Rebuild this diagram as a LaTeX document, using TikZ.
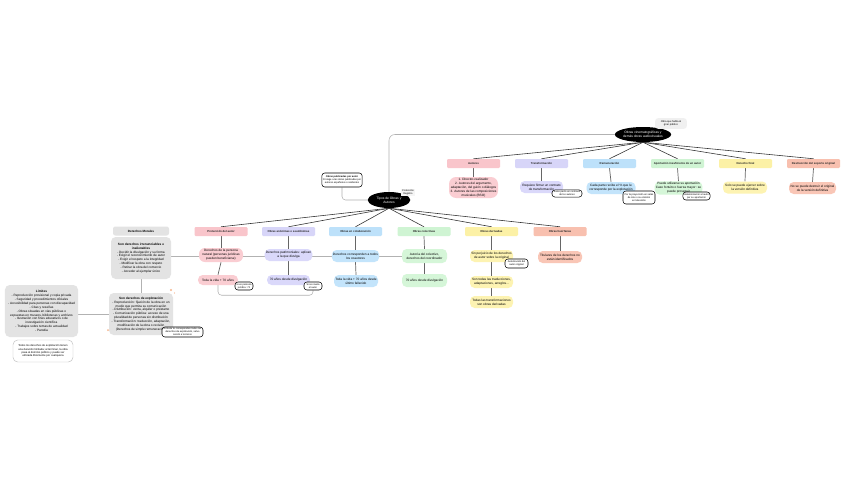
\documentclass[tikz,border=0pt]{standalone}
\usepackage{fontspec}
\setsansfont{Liberation Sans}
\usetikzlibrary{shapes.geometric,backgrounds,calc}
\definecolor{PinkHead}{HTML}{F9C5CB}
\definecolor{PinkLeaf}{HTML}{FACDD2}
\definecolor{LilacHead}{HTML}{D7D5F8}
\definecolor{LilacLeaf}{HTML}{DAD8FA}
\definecolor{SkyHead}{HTML}{BDE1FA}
\definecolor{SkyLeaf}{HTML}{C3E4FB}
\definecolor{MintHead}{HTML}{CFF4D3}
\definecolor{MintLeaf}{HTML}{D5F6D8}
\definecolor{LemonHead}{HTML}{FCF1A6}
\definecolor{LemonLeaf}{HTML}{FDF3B2}
\definecolor{SalmonHead}{HTML}{F8C0AF}
\definecolor{SalmonLeaf}{HTML}{F9C6B6}
\definecolor{PanelGray}{HTML}{E3E3E3}
\definecolor{Spark}{HTML}{F6B48A}
\newcommand{\tinytxt}{\fontsize{2.7}{3.3}\selectfont}

\begin{document}
\begin{tikzpicture}[x=0.03cm,y=-0.03cm,every node/.style={font=\sffamily\tinytxt,text=black},
cat/.style={rectangle,rounded corners=1pt,minimum width=1.59cm,minimum height=0.27cm,inner sep=0pt,font=\sffamily\bfseries\fontsize{2.4}{3}\selectfont,text=black!85},
leaf/.style={rectangle,rounded corners=4pt,align=center,inner sep=1pt,minimum width=1.33cm,minimum height=0.36cm},
note/.style={draw=black,line width=0.45pt,fill=white,rounded corners=2.5pt,align=center,inner sep=1pt,font=\sffamily\fontsize{2.1}{2.5}\selectfont},
hub/.style={ellipse,fill=black,align=center,inner sep=0pt,font=\sffamily\fontsize{2.8}{3.3}\selectfont,text=white},
panel/.style={fill=PanelGray,rounded corners=4pt,align=center,inner sep=1.5pt},
fan/.style={draw=black!80,line width=0.5pt},stem/.style={draw=black!60,line width=0.6pt},link/.style={draw=black!30,line width=0.45pt}]
\useasboundingbox (0,0) rectangle (848,477);

% hubs
\node[hub,minimum width=1.28cm,minimum height=0.48cm] (tipos) at (389,200) {Tipos de Obras y\\Autores};
\node[hub,minimum width=1.4cm,minimum height=0.45cm] (cine) at (643,134.5) {Obras cinematográficas y\\demás obras audiovisuales};
\node[fill=gray!12,rounded corners=2.5pt,align=center,inner sep=1pt,font=\sffamily\fontsize{2.2}{2.6}\selectfont,minimum width=0.95cm,minimum height=0.32cm] (cinenota) at (671,123.5) {Obra que habla al\\gran público};
\node[note,minimum width=1.2cm,minimum height=0.42cm] (publ) at (342,180) {\textbf{Obras publicadas por autor}\\Protege a las obras publicadas por\\autores españoles o residentes};
\node[fill=gray!8,align=center,inner sep=1pt,font=\sffamily\fontsize{2.1}{2.5}\selectfont] (protec) at (408,192.5) {Protección\\Registro};

% audiovisual branch
\node[cat,fill=PinkHead] (autores) at (473.5,163.5) {Autores};
\node[cat,fill=LilacHead] (transf) at (541.5,163.5) {Transformación};
\node[cat,fill=SkyHead] (remun) at (609.5,163.5) {Remuneración};
\node[cat,fill=MintHead] (aport) at (677.5,163.5) {Aportación insuficiente de un autor};
\node[cat,fill=LemonHead] (final) at (745.5,163.5) {Derecho final};
\node[cat,fill=SalmonHead] (destr) at (813.5,163.5) {Destrucción del soporte original};
\node[leaf,fill=PinkLeaf,minimum width=1.47cm,minimum height=0.63cm,rounded corners=6pt] (autores1) at (473.5,187.5) {1. Director-realizador\\2. Autores del argumento,\\adaptación, del guión o diálogos\\3. Autores de las composiciones\\musicales (BSO)};
\node[leaf,fill=LilacLeaf,minimum width=1.29cm] (transf1) at (541.5,187) {Requiere firmar un contrato\\de transformación};
\node[leaf,fill=SkyLeaf,minimum width=1.47cm] (remun1) at (611,188) {Cada parte recibe el \% que le\\corresponde por la explotación};
\node[leaf,fill=MintLeaf,minimum width=1.41cm] (aport1) at (678.5,188) {Puede utilizarse su aportación\\Caso fortuito o fuerza mayor: se\\puede proseguir};
\node[leaf,fill=LemonLeaf,minimum width=1.32cm] (final1) at (745,187.5) {Solo se puede ejercer sobre\\la versión definitiva};
\node[leaf,fill=SalmonLeaf,minimum width=1.41cm] (destr1) at (812.5,188) {No se puede destruir el original\\de la versión definitiva};
\node[note,minimum width=0.9cm,minimum height=0.21cm] (transfnota) at (567,193.5) {Salvo pacto en contrario\\de los autores};
\node[note,minimum width=0.96cm,minimum height=0.39cm] (remunnota) at (639,197.5) {Por la proyección en salas\\de cine o su emisión\\en televisión};
\node[note,minimum width=0.81cm,minimum height=0.24cm] (aportnota) at (696.5,196) {Indemnización al autor\\por su aportación};

% main branch
\node[cat,fill=PinkHead] (persona) at (221,231.5) {Protección del autor};
\node[cat,fill=LilacHead] (anonima) at (288.5,231.5) {Obras anónimas o seudónimas};
\node[cat,fill=SkyHead] (colab) at (355.5,231.5) {Obras en colaboración};
\node[cat,fill=MintHead] (colect) at (424,231.5) {Obras colectivas};
\node[cat,fill=LemonHead] (deriv) at (491.5,231.5) {Obras derivadas};
\node[cat,fill=SalmonHead] (huerf) at (560,231.5) {Obras huérfanas};
\node[leaf,fill=PinkLeaf,minimum width=1.32cm,minimum height=0.42cm,rounded corners=5pt] (persona1) at (221,255) {Derechos de la persona\\natural (personas jurídicas\\pueden beneficiarse)};
\node[leaf,fill=PinkLeaf,minimum width=1.2cm,minimum height=0.3cm] (persona2) at (218,280) {Toda la vida + 70 años};
\node[leaf,fill=LilacLeaf,minimum width=1.29cm] (anonima1) at (288.5,255) {Derechos patrimoniales: aplican\\a la que divulga};
\node[leaf,fill=LilacLeaf,minimum width=1.29cm,minimum height=0.3cm] (anonima2) at (288.5,280) {70 años desde divulgación};
\node[leaf,fill=SkyLeaf,minimum width=1.35cm] (colab1) at (355.5,256) {Derechos corresponden a todos\\los coautores};
\node[leaf,fill=SkyLeaf,minimum width=1.32cm] (colab2) at (356,281) {Toda la vida + 70 años desde\\último fallecido};
\node[leaf,fill=MintLeaf,minimum width=1.35cm,minimum height=0.42cm] (colect1) at (424.5,256) {Autoría del colectivo,\\derechos del coordinador};
\node[leaf,fill=MintLeaf,minimum width=1.35cm,minimum height=0.39cm] (colect2) at (424.5,280.5) {70 años desde divulgación};
\node[leaf,fill=LemonLeaf,minimum width=1.29cm] (deriv1) at (491.5,256) {Sin perjuicio de los derechos\\de autor sobre la original};
\node[leaf,fill=LemonLeaf,minimum width=1.29cm] (deriv2) at (491.5,282) {Son todas las traducciones,\\adaptaciones, arreglos...};
\node[leaf,fill=LemonLeaf,minimum width=1.29cm] (deriv3) at (491.5,302) {Todas las transformaciones\\son obras derivadas};
\node[leaf,fill=SalmonLeaf,minimum width=1.32cm] (huerf1) at (560,257) {Titulares de los derechos no\\están identificados};
\node[note,minimum width=0.54cm,minimum height=0.24cm] (personanota) at (244,286) {Si es persona\\jurídica: 70};
\node[note,minimum width=0.54cm,minimum height=0.24cm] (anonimanota) at (313,286) {Si se revela\\el autor};
\node[note,minimum width=0.69cm,minimum height=0.27cm] (derivnota) at (516.5,263.5) {Autorización del\\autor original};

% left panels
\node[panel,rounded corners=2pt,minimum width=1.68cm,minimum height=0.27cm,font=\sffamily\bfseries\fontsize{2.6}{3.2}\selectfont] (moraleshead) at (141,231) {Derechos Morales};
\node[panel,minimum width=1.8cm,minimum height=1.26cm] (morales) at (141,258) {\textbf{Son derechos irrenunciables e}\\\textbf{inalienables}\\- Decidir la divulgación y su forma\\- Exigir el reconocimiento de autor\\- Exigir el respeto a la integridad\\- Modificar la obra con respeto\\- Retirar la obra del comercio\\- Acceder al ejemplar único};
\node[panel,minimum width=1.92cm,minimum height=1.26cm] (explot) at (141,314) {\textbf{Son derechos de explotación}\\- Reproducción: fijación de la obra en un\\medio que permita su comunicación\\- Distribución: venta, alquiler o préstamo\\- Comunicación pública: acceso de una\\pluralidad de personas sin distribución\\- Transformación: traducción, adaptación,\\modificación de la obra o revisión\\(Derechos de simple remuneración)};
\node[note,minimum width=1.23cm,minimum height=0.3cm] (explotnota) at (182.5,332) {Al titular le corresponden todos los\\derechos de explotación, salvo\\cesión a terceros};
\node[panel,minimum width=2.19cm,minimum height=1.56cm] (limites) at (41.5,311) {\textbf{Límites}\\- Reproducción provisional y copia privada\\- Seguridad y procedimientos oficiales\\- Accesibilidad para personas con discapacidad\\- Citas y reseñas\\- Obras situadas en vías públicas o\\expuestas en museos, bibliotecas y archivos\\- Ilustración con fines educativos o de\\investigación científica\\- Trabajos sobre temas de actualidad\\- Parodia};
\node[draw=black!25,fill=white,rounded corners=4pt,align=center,inner sep=1pt,minimum width=1.8cm,minimum height=0.66cm,font=\sffamily\fontsize{2.3}{2.9}\selectfont] (limitesnota) at (43,351) {Todos los derechos de explotación tienen\\una duración limitada; al terminar, la obra\\pasa al dominio público y puede ser\\utilizada libremente por cualquiera};
\fill[Spark] (171,290) circle (1.1) (174.5,293) circle (0.7) (108,330) circle (1);

% connectors
\begin{scope}[on background layer]
\fill[white] (0,0) rectangle (848,477);
\draw[link,rounded corners=5pt] (cine.west) -| (tipos.north);
\draw[link,rounded corners=3pt] (publ.south) |- (tipos.west);
\draw[link] (colect1.west) -- (colect1.west -| morales.east);
\draw[link,rounded corners=3pt] (persona2.south) -- ++(0,10) -| (anonimanota.south);
\draw[link] (morales.south) -- (explot.north);
\draw[link] (limites.east |- explot.west) -- (explot.west);
\foreach \c in {persona,anonima,colab,colect,deriv,huerf} \draw[fan] (tipos.south) -- (\c.north);
\foreach \c in {autores,transf,remun,aport,final,destr} \draw[fan] (cine.south) -- (\c.north);
\foreach \a/\b in {autores/autores1,transf/transf1,remun/remun1,aport/aport1,final/final1,destr/destr1,persona/persona1,persona1/persona2,anonima/anonima1,anonima1/anonima2,colab/colab1,colab1/colab2,colect/colect1,colect1/colect2,deriv/deriv1,deriv1/deriv2,deriv2/deriv3,huerf/huerf1} \draw[stem] (\a.south) -- (\b.north);
\end{scope}

\end{tikzpicture}
\end{document}
